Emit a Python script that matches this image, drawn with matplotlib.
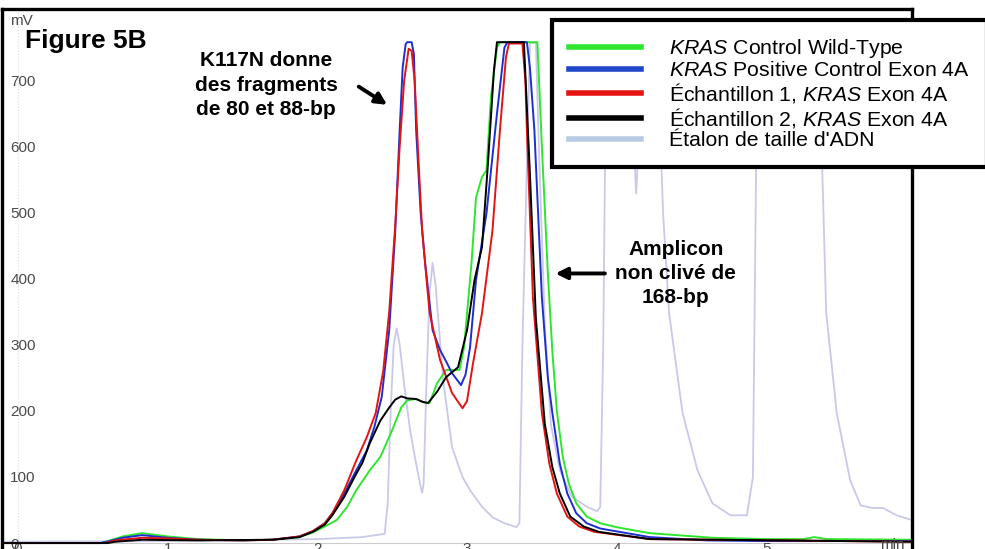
import matplotlib
matplotlib.use('Agg')
import matplotlib.pyplot as plt
from matplotlib.lines import Line2D

plt.rcParams['font.family'] = ['Liberation Sans', 'DejaVu Sans']
plt.rcParams['mathtext.fontset'] = 'custom'
plt.rcParams['mathtext.rm'] = 'Liberation Sans'
plt.rcParams['mathtext.it'] = 'Liberation Sans:italic'
plt.rcParams['mathtext.bf'] = 'Liberation Sans:bold'

# --- data (time in min, signal in mV) ---
green_t = [-0.1, 0.55, 0.60, 0.70, 0.83, 1.0, 1.2, 1.5, 1.7, 1.88, 1.97, 2.05, 2.13, 2.20, 2.26, 2.35, 2.42, 2.50,
           2.56, 2.60, 2.66, 2.72, 2.75, 2.80, 2.86, 2.95, 2.98, 3.03, 3.06, 3.10, 3.13, 3.16, 3.20, 3.22, 3.47,
           3.50, 3.54, 3.57, 3.60, 3.64, 3.68, 3.73, 3.80, 3.89, 4.0, 4.22, 4.64, 5.0, 5.25, 5.32, 5.40, 5.97]
green_mv = [0, 0, 3, 10, 15, 10, 6, 4, 5, 9, 16, 25, 35, 55, 80, 110, 130, 171,
            205, 216, 218, 212, 212, 242, 262, 262, 296, 424, 523, 554, 564, 675, 750, 758, 758,
            600, 408, 290, 200, 130, 90, 60, 40, 30, 24, 15, 8, 6, 6, 9, 6, 5]

blue_t = [-0.1, 0.55, 0.61, 0.70, 0.83, 1.0, 1.2, 1.5, 1.7, 1.88, 1.97, 2.05, 2.10, 2.18, 2.26, 2.33, 2.38, 2.43,
          2.48, 2.52, 2.55, 2.57, 2.59, 2.60, 2.63, 2.645, 2.66, 2.69, 2.72, 2.77, 2.82, 2.86, 2.90, 2.96, 2.99,
          3.02, 3.06, 3.13, 3.20, 3.25, 3.27, 3.40, 3.42, 3.45, 3.50, 3.54, 3.57, 3.62, 3.67, 3.73, 3.80, 3.89,
          4.22, 4.6, 5.0, 5.97]
blue_mv = [0, 0, 3, 8, 12, 8, 5, 4, 5, 10, 18, 30, 45, 75, 110, 140, 175, 221,
           322, 470, 625, 720, 755, 758, 758, 740, 625, 500, 424, 322, 292, 275, 257, 239, 255,
           296, 398, 499, 650, 750, 758, 758, 720, 625, 372, 250, 197, 120, 75, 45, 30, 22,
           9, 4, 3, 3]

red_t = [-0.1, 0.58, 0.65, 0.83, 1.0, 1.2, 1.5, 1.7, 1.88, 1.97, 2.05, 2.10, 2.18, 2.26, 2.33, 2.39, 2.44, 2.48,
         2.52, 2.55, 2.58, 2.61, 2.63, 2.65, 2.68, 2.70, 2.75, 2.82, 2.90, 2.97, 3.00, 3.04, 3.10, 3.17, 3.22,
         3.26, 3.28, 3.37, 3.39, 3.40, 3.44, 3.50, 3.55, 3.60, 3.67, 3.75, 3.85, 4.22, 5.97]
red_mv = [0, 0, 4, 8, 7, 5, 4, 5, 10, 18, 30, 45, 80, 125, 160, 197, 260, 350,
          480, 600, 700, 748, 745, 700, 560, 473, 348, 277, 227, 204, 215, 272, 348, 473, 625,
          735, 756, 756, 700, 625, 372, 197, 120, 75, 40, 25, 17, 6, 2]

black_t = [-0.1, 0.60, 0.65, 0.83, 1.2, 1.7, 1.88, 1.97, 2.05, 2.10, 2.18, 2.26, 2.30, 2.35, 2.42, 2.48, 2.52,
           2.56, 2.60, 2.66, 2.70, 2.74, 2.80, 2.86, 2.94, 3.00, 3.05, 3.10, 3.14, 3.18, 3.20, 3.37, 3.38,
           3.42, 3.46, 3.52, 3.57, 3.62, 3.69, 3.78, 3.88, 4.22, 5.97]
black_mv = [0, 0, 2, 5, 4, 5, 9, 17, 28, 42, 70, 105, 121, 151, 185, 205, 217,
            222, 219, 218, 214, 212, 229, 251, 266, 322, 398, 448, 575, 716, 758, 758, 758,
            560, 340, 180, 115, 75, 40, 25, 17, 6, 2]

ladder_t = [-0.1, 1.0, 2.0, 2.30, 2.45, 2.47, 2.49, 2.51, 2.53, 2.55, 2.58, 2.62, 2.66, 2.69, 2.70, 2.71, 2.73,
            2.75, 2.77, 2.79, 2.84, 2.90, 2.97, 3.02, 3.10, 3.17, 3.25, 3.33, 3.35, 3.37, 3.40, 3.42, 3.46,
            3.48, 3.52, 3.56, 3.62, 3.70, 3.80, 3.87, 3.89, 3.91, 3.93, 4.08, 4.13, 4.18, 4.27, 4.31, 4.35,
            4.44, 4.54, 4.64, 4.76, 4.87, 4.91, 4.94, 5.35, 5.40, 5.47, 5.56, 5.63, 5.71, 5.78, 5.87, 5.97]
ladder_mv = [2, 3, 6, 9, 14, 60, 200, 300, 325, 300, 240, 170, 120, 85, 76, 90, 250,
             380, 424, 390, 247, 145, 100, 80, 55, 39, 30, 24, 30, 300, 575, 757, 757,
             600, 330, 180, 110, 70, 55, 48, 55, 300, 757, 757, 529, 757, 757, 499, 348,
             197, 110, 60, 42, 42, 100, 757, 757, 348, 197, 95, 57, 53, 53, 42, 35]

labels = [r'$\it{KRAS}$ Control Wild-Type',
          r'$\it{KRAS}$ Positive Control Exon 4A',
          r'Échantillon 1, $\it{KRAS}$ Exon 4A',
          r'Échantillon 2, $\it{KRAS}$ Exon 4A',
          "Étalon de taille d'ADN"]
y_ticks = [0, 100, 200, 300, 400, 500, 600, 700]
x_ticks = [0, 1, 2, 3, 4, 5]

c_green = '#2ee62e'
c_blue = '#1c2fcf'
c_red = '#e31414'
c_black = '#000000'
c_ladder = '#c9c9ea'

fig = plt.figure(figsize=(9.85, 5.49), dpi=100)
ax = fig.add_axes([2 / 985, 0, 910 / 985, 540.5 / 549])

ax.axhline(0, color='#cccccc', lw=0.8, zorder=0)
ax.axvline(0, color='#dddddd', lw=0.8, ls=':', zorder=0)

ax.plot(ladder_t, ladder_mv, color=c_ladder, lw=1.3, zorder=1)
ax.plot(green_t, green_mv, color=c_green, lw=1.4, zorder=2)
ax.plot(blue_t, blue_mv, color=c_blue, lw=1.4, zorder=3)
ax.plot(red_t, red_mv, color=c_red, lw=1.4, zorder=4)
ax.plot(black_t, black_mv, color=c_black, lw=1.4, zorder=5)

ax.set_xlim(-0.107, 5.973)
ax.set_ylim(-9, 809)

for side in ['left', 'top', 'right']:
    ax.spines[side].set_linewidth(2.4)
    ax.spines[side].set_color('black')
ax.spines['bottom'].set_visible(False)

ax.set_yticks(y_ticks)
ax.set_yticklabels([str(v) for v in y_ticks])
ax.tick_params(axis='y', length=0, pad=-6, labelsize=11, labelcolor='#4a4a4a')
for lab in ax.get_yticklabels():
    lab.set_horizontalalignment('left')
ax.set_xticks(x_ticks)
ax.set_xticklabels([str(v) for v in x_ticks])
ax.tick_params(axis='x', length=0, pad=-5, labelsize=11, labelcolor='#4a4a4a')

fig.text(10 / 985, 1 - 21 / 549, 'mV', fontsize=11, color='#4a4a4a', va='center', ha='left')
fig.text(880 / 985, 1 - 545 / 549, 'min', fontsize=11, color='#4a4a4a', va='center', ha='left')
fig.text(25 / 985, 1 - 41 / 549, 'Figure 5B', fontsize=19, fontweight='bold', va='center', ha='left')

ax.text(1.659, 693, 'K117N donne\ndes fragments\nde 80 et 88-bp', fontsize=15, fontweight='bold',
        ha='center', va='center', multialignment='center', linespacing=1.35)
ax.annotate('', xy=(2.482, 661), xytext=(2.261, 693),
            arrowprops=dict(arrowstyle='-|>', lw=2.8, color='black', mutation_scale=17))

ax.text(4.395, 408, 'Amplicon\nnon clivé de\n168-bp', fontsize=15, fontweight='bold',
        ha='center', va='center', multialignment='center', linespacing=1.35)
ax.annotate('', xy=(3.572, 408), xytext=(3.94, 408),
            arrowprops=dict(arrowstyle='-|>', lw=2.8, color='black', mutation_scale=17))

handles = [Line2D([], [], color=c_green, lw=4),
           Line2D([], [], color='#1f45c8', lw=4),
           Line2D([], [], color=c_red, lw=4),
           Line2D([], [], color=c_black, lw=4),
           Line2D([], [], color='#b8cbe2', lw=4)]
leg = fig.legend(handles, labels, loc='upper left', bbox_to_anchor=(552 / 985, 1 - 20 / 549),
                 fontsize=15.3, frameon=True, fancybox=False, framealpha=1, edgecolor='black',
                 handlelength=3.4, handletextpad=1.3, borderpad=0.8, labelspacing=0.05,
                 borderaxespad=0)
leg.get_frame().set_linewidth(3)

plt.savefig('out.png', dpi=100)
